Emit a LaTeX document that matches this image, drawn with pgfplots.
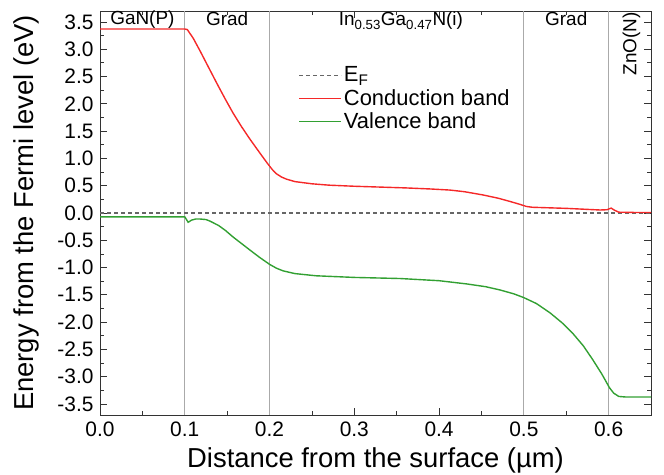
\documentclass[border=0pt]{standalone}
\usepackage{pgfplots}
\pgfplotsset{compat=1.18}
\usepackage{fontspec}
\setmainfont{Liberation Sans}
\definecolor{cb}{RGB}{245,40,40}
\definecolor{vb}{RGB}{50,160,50}
\definecolor{vl}{RGB}{170,170,170}
\begin{document}
\begin{tikzpicture}
\begin{axis}[
  scale only axis,
  width=551bp, height=404bp,
  xmin=0, xmax=0.65, ymin=-3.7, ymax=3.7,
  xtick={0,0.1,...,0.61}, minor x tick num=1,
  ytick={-3.5,-3,...,3.6}, minor y tick num=1,
  /pgf/number format/assume math mode=true,
  xticklabel style={/pgf/number format/fixed,/pgf/number format/fixed zerofill,/pgf/number format/precision=1, yshift=-3bp},
  yticklabel style={/pgf/number format/fixed,/pgf/number format/fixed zerofill,/pgf/number format/precision=1, xshift=-3bp},
  tick label style={font=\fontsize{21}{24}\selectfont},
  xlabel={Distance from the surface (µm)},
  ylabel={Energy from the Fermi level (eV)},
  label style={font=\fontsize{27.5}{30}\selectfont},
  xlabel style={yshift=-4bp},
  ylabel style={yshift=11bp},
  axis line style={line width=1pt, black!80},
  major tick length=7bp, minor tick length=4bp,
  every tick/.style={black!80, line width=0.8pt},
  legend style={at={(0.355,0.872)}, anchor=north west, draw=none, fill=none,
    font=\fontsize{22}{24}\selectfont, row sep=2bp},
  legend cell align=left,
  legend image code/.code={\draw[#1, line width=1.2pt] (0bp,0bp) -- (42bp,0bp);},
  clip=true,
]
\addplot[vl, line width=1pt, forget plot] coordinates {(0.1,-3.7) (0.1,3.7)};
\addplot[vl, line width=1pt, forget plot] coordinates {(0.2,-3.7) (0.2,3.7)};
\addplot[vl, line width=1pt, forget plot] coordinates {(0.5,-3.7) (0.5,3.7)};
\addplot[vl, line width=1pt, forget plot] coordinates {(0.6,-3.7) (0.6,3.7)};
\addplot[black!60, dashed, line width=1.2pt, dash pattern=on 4bp off 3bp] coordinates {(0,0) (0.65,0)};
\addlegendentry{E\textsubscript{F}}
\addplot[cb, line width=1.4pt] coordinates {
(0,3.37)(0.1,3.37)(0.103,3.36)(0.11,3.2)(0.118,2.97)(0.128,2.67)(0.138,2.37)(0.148,2.08)(0.157,1.83)(0.167,1.58)(0.177,1.35)(0.189,1.09)(0.197,0.92)(0.203,0.80)(0.208,0.72)(0.214,0.66)(0.22,0.62)(0.23,0.575)(0.25,0.535)(0.27,0.51)(0.3,0.49)(0.33,0.475)(0.36,0.46)(0.39,0.44)(0.413,0.42)(0.43,0.39)(0.452,0.33)(0.47,0.27)(0.484,0.21)(0.495,0.16)(0.503,0.12)(0.51,0.105)(0.53,0.095)(0.55,0.085)(0.57,0.07)(0.59,0.055)(0.598,0.06)(0.603,0.09)(0.607,0.05)(0.612,0.015)(0.63,0.01)(0.65,0.01)};
\addlegendentry{Conduction band}
\addplot[vb, line width=1.4pt] coordinates {
(0,-0.07)(0.1,-0.07)(0.102,-0.12)(0.104,-0.17)(0.108,-0.13)(0.113,-0.11)(0.118,-0.11)(0.125,-0.12)(0.13,-0.15)(0.14,-0.23)(0.148,-0.32)(0.157,-0.44)(0.167,-0.56)(0.177,-0.68)(0.188,-0.81)(0.2,-0.94)(0.208,-1.01)(0.216,-1.06)(0.23,-1.11)(0.255,-1.15)(0.3,-1.18)(0.354,-1.2)(0.4,-1.24)(0.433,-1.30)(0.455,-1.35)(0.472,-1.41)(0.488,-1.48)(0.5,-1.55)(0.515,-1.66)(0.531,-1.83)(0.545,-2.01)(0.558,-2.21)(0.57,-2.43)(0.581,-2.68)(0.592,-2.95)(0.601,-3.2)(0.606,-3.3)(0.612,-3.36)(0.62,-3.37)(0.65,-3.37)};
\addlegendentry{Valence band}
\node[font=\fontsize{19}{21}\selectfont] at (axis cs:0.05,3.55) {GaN(P)};
\node[font=\fontsize{19}{21}\selectfont] at (axis cs:0.15,3.55) {Grad};
\node[font=\fontsize{19}{21}\selectfont] at (axis cs:0.355,3.52) {In\textsubscript{0.53}Ga\textsubscript{0.47}N(i)};
\node[font=\fontsize{19}{21}\selectfont] at (axis cs:0.55,3.55) {Grad};
\node[font=\fontsize{19}{21}\selectfont, rotate=90] at (axis cs:0.627,3.1) {ZnO(N)};
\end{axis}
\pgfresetboundingbox
\path ([shift={(-100bp,-59bp)}]current axis.south west) rectangle ([shift={(13bp,11bp)}]current axis.north east);
\end{tikzpicture}
\end{document}
